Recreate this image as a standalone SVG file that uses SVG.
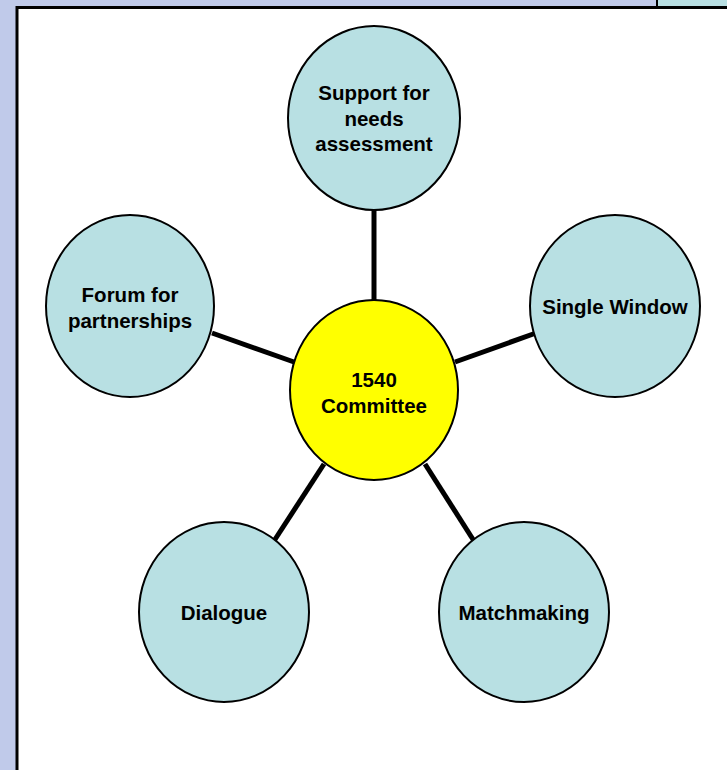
<svg xmlns="http://www.w3.org/2000/svg" width="727" height="770" viewBox="0 0 727 770">
<style>
.n{fill:#B8E0E3;stroke:#000;stroke-width:2}
.c{fill:#FFFF00;stroke:#000;stroke-width:2}
.t{font-family:"Liberation Sans",Arial,sans-serif;font-weight:bold;font-size:20.5px;text-anchor:middle;fill:#000}
.l{stroke:#000;stroke-width:5;fill:none}
</style>
<rect x="0" y="0" width="727" height="770" fill="#C0CAEA"/>
<rect x="658" y="0" width="69" height="7" fill="#B8E0E3"/>
<rect x="18" y="8" width="709" height="762" fill="#FFFFFF"/>
<path d="M17 770 V7.5 H727" fill="none" stroke="#000" stroke-width="3"/>
<line x1="657" y1="0" x2="657" y2="7" stroke="#000" stroke-width="2"/>
<g id="connectors">
<line class="l" x1="374" y1="208" x2="374" y2="302"/>
<line class="l" x1="212" y1="333" x2="294" y2="362"/>
<line class="l" x1="455" y1="362" x2="536" y2="333"/>
<line class="l" x1="324" y1="464" x2="274" y2="541"/>
<line class="l" x1="425" y1="464" x2="474" y2="541"/>
</g>
<g id="needs">
<ellipse class="n" cx="374" cy="118" rx="86" ry="92"/>
<text class="t" x="374" y="100">Support for</text>
<text class="t" x="374" y="126">needs</text>
<text class="t" x="374" y="151">assessment</text>
</g>
<g id="forum">
<ellipse class="n" cx="130" cy="306" rx="84" ry="91"/>
<text class="t" x="130" y="302">Forum for</text>
<text class="t" x="130" y="328">partnerships</text>
</g>
<g id="single">
<ellipse class="n" cx="615" cy="306" rx="85" ry="91"/>
<text class="t" x="615" y="314">Single Window</text>
</g>
<g id="committee">
<ellipse class="c" cx="374" cy="390" rx="84" ry="90"/>
<text class="t" x="374" y="387">1540</text>
<text class="t" x="374" y="413">Committee</text>
</g>
<g id="dialogue">
<ellipse class="n" cx="224" cy="612" rx="85" ry="90"/>
<text class="t" x="224" y="620">Dialogue</text>
</g>
<g id="matchmaking">
<ellipse class="n" cx="524" cy="612" rx="85" ry="90"/>
<text class="t" x="524" y="620">Matchmaking</text>
</g>
</svg>
